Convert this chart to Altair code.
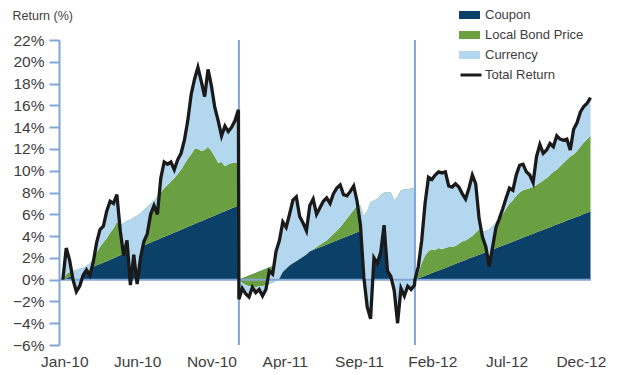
import altair as alt
import pandas as pd

# ---- data (weekly points, % return since start of each year) ----
# level of the coupon band (top of navy)
coupon_2010 = [0.00, 0.13, 0.26, 0.39, 0.52, 0.66, 0.79, 0.92, 1.05, 1.18, 1.31, 1.44, 1.57, 1.70, 1.83, 1.97,
               2.10, 2.23, 2.36, 2.49, 2.62, 2.75, 2.88, 3.01, 3.14, 3.28, 3.41, 3.54, 3.67, 3.80, 3.93, 4.06,
               4.19, 4.32, 4.45, 4.59, 4.72, 4.85, 4.98, 5.11, 5.24, 5.37, 5.50, 5.63, 5.76, 5.90, 6.03, 6.16,
               6.29, 6.42, 6.55, 6.68, 6.81]
coupon_2011 = [0.00, 0.12, 0.25, 0.37, 0.50, 0.62, 0.74, 0.87, 0.99, 1.12, 1.24, 1.36, 1.49, 1.61, 1.74, 1.86,
               1.98, 2.11, 2.23, 2.36, 2.48, 2.60, 2.73, 2.85, 2.98, 3.10, 3.22, 3.35, 3.47, 3.60, 3.72, 3.84,
               3.97, 4.09, 4.22, 4.34, 4.46, 4.59, 4.71, 4.84, 4.96, 5.08, 5.21, 5.33, 5.46, 5.58, 5.70, 5.83,
               5.95, 6.08, 6.20, 6.32, 6.45]
coupon_2012 = [0.00, 0.12, 0.24, 0.36, 0.48, 0.60, 0.72, 0.84, 0.96, 1.08, 1.21, 1.33, 1.45, 1.57, 1.69, 1.81,
               1.93, 2.05, 2.17, 2.29, 2.41, 2.53, 2.65, 2.77, 2.89, 3.01, 3.13, 3.25, 3.37, 3.49, 3.62, 3.74,
               3.86, 3.98, 4.10, 4.22, 4.34, 4.46, 4.58, 4.70, 4.82, 4.94, 5.06, 5.18, 5.30, 5.42, 5.54, 5.66,
               5.78, 5.90, 6.03, 6.15, 6.27]

# coupon + local bond price (top of the green band)
price_2010 = [0.0, 0.5, 0.7, 0.8, 0.9, 1.0, 1.1, 1.3, 1.5, 1.9, 2.5, 3.0, 3.4, 3.8, 4.3, 4.7, 5.3,
              5.0, 5.2, 5.4, 5.5, 5.7, 5.9, 6.1, 6.4, 6.7, 7.0, 7.3, 7.6,
              8.0, 8.4, 8.7, 9.0, 9.3, 9.7, 10.1, 10.6, 11.1, 11.5, 12.0, 12.0, 11.8, 11.9, 12.2, 11.8,
              11.3, 10.7, 10.8, 10.4, 10.6, 10.7, 10.7, 10.8]
price_2011 = [0.0, -0.3, -0.5, -0.6, -0.6, -0.7, -0.6, -0.6, -0.5, -0.4, -0.3, -0.1, 0.1, 0.7, 1.0, 1.3,
              1.5, 1.7, 1.9, 2.1, 2.3, 2.6, 2.8, 3.0, 3.2, 3.4, 3.6, 3.9, 4.2, 4.5, 4.8, 5.2,
              5.6, 6.0, 6.4, 6.8, 6.8, 5.8, 6.3, 7.1, 7.3, 7.4, 7.8, 8.0, 8.0, 8.0, 7.3, 7.6,
              8.2, 8.3, 8.3, 8.4, 8.4]
price_2012 = [0.0, 0.6, 1.5, 2.2, 2.6, 2.8, 2.7, 2.9, 2.8, 2.9, 3.0, 3.0, 3.1, 3.3, 3.5, 3.6,
              3.8, 4.0, 4.3, 4.6, 4.4, 4.5, 4.6, 4.9, 5.3, 5.6, 6.0, 6.5, 7.0, 7.3, 7.7, 8.0,
              8.2, 8.3, 8.4, 8.5, 8.7, 8.9, 9.1, 9.3, 9.6, 9.9, 10.1, 10.4, 10.7, 11.0, 11.3, 11.5,
              11.8, 12.2, 12.6, 12.9, 13.2]

# total return (coupon + local bond price + currency)
total_2010 = [0.0, 2.9, 1.8, 0.0, -1.1, -0.6, 0.4, 0.9, 0.4, 1.6, 3.4, 4.6, 4.9, 6.3, 7.2, 7.0,
              7.8, 4.5, 2.2, 3.6, -0.5, 2.3, -0.4, 2.0, 3.5, 4.2, 6.0, 6.8, 6.0, 9.3, 10.8, 10.6,
              10.8, 10.1, 11.0, 11.6, 12.8, 14.6, 17.0, 18.4, 19.5, 18.2, 16.8, 19.3, 17.8, 15.8, 14.6, 13.2,
              14.1, 13.6, 14.0, 14.6, 15.6]
total_2011 = [-1.8, -0.8, -1.3, -1.6, -0.7, -1.2, -0.9, -1.5, -0.9, 0.8, 0.5, 2.6, 3.6, 5.3, 4.8, 6.0,
              7.3, 7.6, 5.8, 5.2, 4.5, 6.8, 7.4, 6.0, 6.6, 7.2, 7.5, 7.0, 7.9, 8.4, 8.7, 7.8,
              7.7, 8.1, 8.6, 7.2, 5.0, 0.2, -2.5, -3.6, 2.0, 1.5, 2.5, 5.0, 0.8, 0.3, -1.0, -4.0,
              -0.8, -1.5, -0.6, -0.9, -0.5]
total_2012 = [0.0, 1.2, 3.6, 7.0, 9.4, 9.2, 9.6, 9.9, 9.8, 9.9, 8.6, 8.5, 8.8, 8.5, 7.9, 7.4,
              8.4, 9.6, 8.8, 5.6, 3.9, 3.0, 1.2, 3.0, 4.8, 5.6, 6.5, 7.5, 8.4, 8.2, 9.6, 10.5,
              10.6, 9.9, 9.6, 8.9, 11.3, 12.4, 11.6, 11.9, 12.5, 12.2, 13.2, 12.9, 12.8, 12.9, 11.9, 13.8,
              14.4, 15.4, 15.9, 16.2, 16.7]

years = [2010, 2011, 2012]
series_names = ["Coupon", "Local Bond Price", "Currency"]
series_colors = ["#0b4068", "#6aa042", "#b4d7f0"]
line_name = "Total Return"
y_ticks = [-6, -4, -2, 0, 2, 4, 6, 8, 10, 12, 14, 16, 18, 20, 22]
x_tick_dates = ["2010-01-04", "2010-06-04", "2010-11-05", "2011-04-06",
                "2011-09-07", "2012-02-06", "2012-07-09", "2012-12-10"]
year_starts = ["2011-01-01", "2012-01-01"]

# ---- build the table ----
frames = []
for yr, c, p, t in zip(years, [coupon_2010, coupon_2011, coupon_2012],
                       [price_2010, price_2011, price_2012],
                       [total_2010, total_2011, total_2012]):
    dates = pd.date_range(f"{yr}-01-01", periods=len(c), freq="7D")
    frames.append(pd.DataFrame({"date": dates, "coupon": c, "price": p, "total": t}))
df = pd.concat(frames, ignore_index=True)

FONT = "Liberation Sans, Arial, sans-serif"
TEXT = "#3d3d3d"
AXIS = "#7fa6d4"


def dt(s):
    y, m, d = (int(v) for v in s.split("-"))
    return alt.DateTime(year=y, month=m, date=d)


x_enc = alt.X(
    "date:T",
    scale=alt.Scale(domain=[dt("2009-12-24"), dt("2012-12-31")]),
    axis=alt.Axis(title=None, values=[dt(s) for s in x_tick_dates], format="%b-%y",
                  tickCount=20, domain=False, ticks=False, tickSize=0, grid=False, labelPadding=9,
                  labelFont=FONT, labelFontSize=15.5, labelColor=TEXT, labelFlush=False,
                  labelOverlap=False),
)
y_scale = alt.Scale(domain=[-6, 22], nice=False, zero=False)
y_axis = alt.Axis(values=y_ticks, tickCount=30, format="d", labelExpr="datum.label + '%'",
                  title="Return (%)", titleAngle=0, titleAlign="left", titleBaseline="alphabetic",
                  titleX=-47, titleY=-21, titleFont=FONT, titleFontSize=12.5, titleFontWeight="normal",
                  titleColor=TEXT, labelFont=FONT, labelFontSize=15.5, labelColor=TEXT, labelPadding=5,
                  labelOverlap=False, labelBound=False, labelFlush=False, tickSize=10, tickColor=AXIS,
                  tickWidth=2, domainColor=AXIS, domainWidth=2, grid=False)

color_scale = alt.Scale(domain=series_names, range=series_colors)
color_legend = alt.Legend(title=None, orient="none", legendX=400, legendY=-35.5,
                          symbolType="M-1,-0.38H1V0.38H-1Z", symbolSize=441, symbolStrokeWidth=0,
                          symbolOpacity=1, labelFont=FONT, labelFontSize=13, labelColor=TEXT,
                          labelOffset=5, rowPadding=2)
color_enc = alt.Color("series:N", scale=color_scale, legend=color_legend)

base = alt.Chart(df)

navy = base.transform_calculate(series="'Coupon'").mark_area(opacity=1).encode(
    x=x_enc, y=alt.Y("coupon:Q", stack=None, scale=y_scale, axis=y_axis), color=color_enc)
green = base.transform_calculate(series="'Local Bond Price'").mark_area(opacity=1).encode(
    x=x_enc, y=alt.Y("coupon:Q", stack=None), y2="price:Q", color=color_enc)
blue = base.transform_calculate(series="'Currency'").mark_area(opacity=1).encode(
    x=x_enc, y=alt.Y("price:Q", stack=None), y2="total:Q", color=color_enc)

zero_rule = alt.Chart(pd.DataFrame({"v": [0]})).mark_rule(color=AXIS, strokeWidth=2).encode(
    y=alt.Y("v:Q"))
year_rules = alt.Chart(pd.DataFrame({"d": year_starts})).mark_rule(color=AXIS, strokeWidth=2).encode(
    x=alt.X("d:T"))

line = base.transform_calculate(series2="'Total Return'").mark_line(strokeWidth=3.3).encode(
    x=x_enc,
    y=alt.Y("total:Q"),
    stroke=alt.Stroke("series2:N",
                      scale=alt.Scale(domain=[line_name], range=["#1a1a1a"]),
                      legend=alt.Legend(title=None, orient="none", legendX=400, legendY=23,
                                        symbolType="stroke", symbolSize=441, symbolStrokeWidth=3,
                                        labelFont=FONT, labelFontSize=13, labelColor=TEXT,
                                        labelOffset=2)),
)

chart = alt.layer(navy, green, blue, zero_rule, year_rules, line).properties(
    width=532, height=305,
    autosize=alt.AutoSizeParams(type="none"),
    padding={"left": 51, "top": 32, "right": 20, "bottom": 24},
    background="white",
).configure_view(stroke=None).configure_axis(labelOverlap=False)

chart.save("out.html", embed_options={"renderer": "svg", "actions": False})
